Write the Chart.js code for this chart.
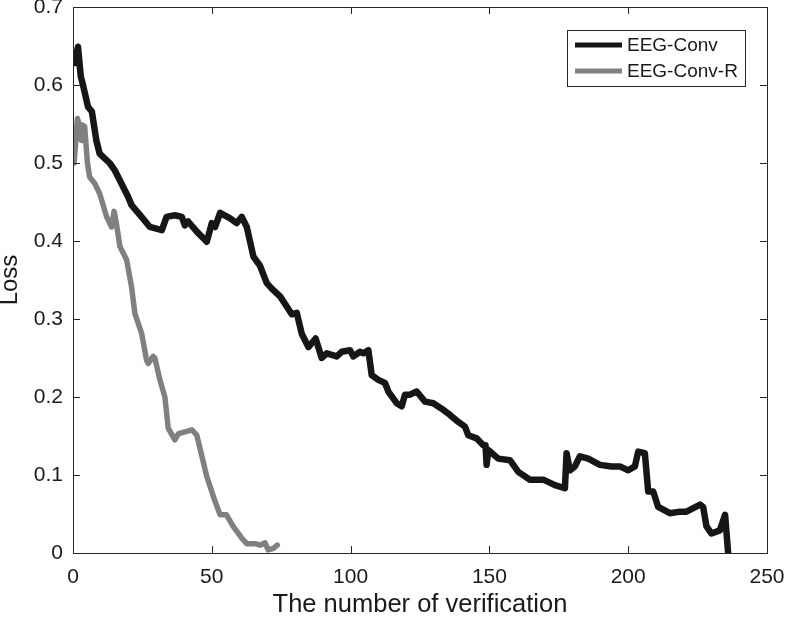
<!DOCTYPE html>
<html>
<head>
<meta charset="utf-8">
<script src="https://cdn.jsdelivr.net/npm/chart.js@4.4.1/dist/chart.umd.min.js"></script>
<style>
  body { margin: 0; background: #fff; }
  #wrap { width: 786px; height: 620px; }
</style>
</head>
<body>
<div id="wrap"><canvas id="lossChart"></canvas></div>
<script>
'use strict';
// ---------------------- Data -----------------
const seriesNames = ['EEG-Conv', 'EEG-Conv-R'];
const seriesColors = ['#161616', '#808080'];

const convSteps = [0.6, 1.8, 2.8, 3.6, 5.4, 6.8, 8.4, 9.6, 11.4, 13.2, 15, 17.4, 19.8, 21.1, 24.7, 27.7,
  32, 33.7, 36.7, 39.2, 40.3, 41.5, 44.6, 48.2, 50, 51.2, 53, 56.6, 59, 60.8, 62.6, 65, 67.4, 69.8,
  71.6, 74.6, 77, 78.8, 80.6, 82.4, 84.8, 87.4, 89.6, 91.4, 95, 96.8, 99.8, 101, 103.4, 104.6, 106.4,
  107.6, 110, 112.4, 113.6, 116.6, 118.4, 119.6, 121.4, 123.8, 126.8, 129.8, 132.8, 135.8, 138.8,
  141.2, 142.4, 145.4, 147.8, 148.6, 149, 149.6, 153.2, 157.4, 160.4, 164.6, 169.4, 173.6, 177.2,
  177.8, 179, 180.8, 182.6, 185.6, 189.8, 194, 197, 200, 202.4, 203.6, 206, 207.2, 209, 210.8, 215,
  218.7, 221, 225.9, 227, 228.2, 230, 233, 234.9, 236];
const convLoss = [0.628, 0.649, 0.611, 0.600, 0.572, 0.566, 0.529, 0.512, 0.506, 0.500, 0.491, 0.474,
  0.457, 0.446, 0.431, 0.418, 0.414, 0.431, 0.433, 0.431, 0.420, 0.425, 0.412, 0.399, 0.423, 0.418,
  0.436, 0.429, 0.423, 0.431, 0.418, 0.380, 0.368, 0.346, 0.339, 0.329, 0.316, 0.306, 0.308, 0.281,
  0.264, 0.275, 0.250, 0.256, 0.252, 0.258, 0.260, 0.252, 0.258, 0.256, 0.260, 0.228, 0.222, 0.218,
  0.207, 0.192, 0.188, 0.203, 0.203, 0.207, 0.194, 0.192, 0.185, 0.177, 0.168, 0.162, 0.151, 0.147,
  0.138, 0.138, 0.113, 0.132, 0.121, 0.119, 0.104, 0.094, 0.094, 0.087, 0.083, 0.128, 0.106, 0.111,
  0.124, 0.121, 0.113, 0.111, 0.111, 0.106, 0.111, 0.130, 0.128, 0.079, 0.079, 0.059, 0.051, 0.053,
  0.053, 0.062, 0.059, 0.034, 0.025, 0.029, 0.049, 0.000];

const convRSteps = [0.4, 1.6, 2.4, 3, 3.2, 4.2, 5.2, 6, 7.8, 9.6, 12.1, 13.9, 14.8, 15.7, 16.9, 19.3,
  21.1, 22.3, 24.7, 26.5, 27.1, 28.9, 29.5, 31.3, 33.1, 34.3, 36.7, 38, 41, 42.8, 44.6, 48.2, 51.2,
  53, 55.3, 57.7, 60.8, 62.6, 65.6, 67.4, 69.2, 70.3, 72.2, 73.6];
const convRLoss = [0.500, 0.557, 0.547, 0.529, 0.549, 0.547, 0.500, 0.482, 0.474, 0.461, 0.431, 0.418,
  0.438, 0.421, 0.393, 0.376, 0.341, 0.307, 0.282, 0.247, 0.243, 0.252, 0.250, 0.222, 0.200, 0.160,
  0.145, 0.153, 0.156, 0.158, 0.151, 0.098, 0.066, 0.049, 0.049, 0.034, 0.019, 0.012, 0.012, 0.010,
  0.013, 0.004, 0.006, 0.010];

const xTicks = [0, 50, 100, 150, 200, 250];
const yTicks = [0, 0.1, 0.2, 0.3, 0.4, 0.5, 0.6, 0.7];

// ---------------------- Helpers -----------------
const fontFamily = '"Liberation Sans", Arial, Helvetica, sans-serif';
const inkColor = '#1a1a1a';
const frameColor = '#262626';

function makePoints(xs, ys) {
  const points = [];
  for (let i = 0; i < xs.length; i++) {
    points.push({ x: xs[i], y: ys[i] });
  }
  return points;
}

// no extra room for overhanging tick labels, the layout padding decides
function noLabelPadding(scale) {
  scale.paddingTop = 0;
  scale.paddingBottom = 0;
  scale.paddingLeft = 0;
  scale.paddingRight = 0;
}

// frame, inward ticks and the boxed legend, MATLAB style
const framePlugin = {
  id: 'frame',
  afterDraw(chart) {
    const { ctx, chartArea: a, scales } = chart;
    const tickLen = 7;
    ctx.save();
    ctx.strokeStyle = frameColor;
    ctx.lineWidth = 1;
    ctx.strokeRect(Math.round(a.left) + 0.5, Math.round(a.top) + 0.5,
      Math.round(a.right - a.left), Math.round(a.bottom - a.top));
    ctx.beginPath();
    for (let v of xTicks) {
      const px = Math.round(scales.x.getPixelForValue(v)) + 0.5;
      ctx.moveTo(px, a.bottom); ctx.lineTo(px, a.bottom - tickLen);
      ctx.moveTo(px, a.top); ctx.lineTo(px, a.top + tickLen);
    }
    for (let v of yTicks) {
      const py = Math.round(scales.y.getPixelForValue(v)) + 0.5;
      ctx.moveTo(a.left, py); ctx.lineTo(a.left + tickLen, py);
      ctx.moveTo(a.right, py); ctx.lineTo(a.right - tickLen, py);
    }
    ctx.stroke();

    // legend
    const box = { left: 567.5, top: 30.5, width: 178, height: 56 };
    ctx.fillStyle = '#fff';
    ctx.fillRect(box.left, box.top, box.width, box.height);
    ctx.strokeRect(box.left, box.top, box.width, box.height);
    ctx.font = '19px ' + fontFamily;
    ctx.textBaseline = 'middle';
    const rows = [45, 71];
    chart.data.datasets.forEach((ds, i) => {
      ctx.strokeStyle = ds.borderColor;
      ctx.lineWidth = 5;
      ctx.beginPath();
      ctx.moveTo(575, rows[i]);
      ctx.lineTo(622, rows[i]);
      ctx.stroke();
      ctx.fillStyle = inkColor;
      ctx.fillText(ds.label, 627, rows[i] + 1);
    });
    ctx.restore();
  }
};

// ---------------------- Chart -----------------
const context = document.getElementById('lossChart').getContext('2d');
const lossChart = new Chart(context, {
  type: 'line',
  data: {
    datasets: [{
      label: seriesNames[0],
      data: makePoints(convSteps, convLoss),
      borderColor: seriesColors[0],
      borderWidth: 6.5,
      pointRadius: 0,
      tension: 0,
      borderJoinStyle: 'round',
      borderCapStyle: 'round'
    }, {
      label: seriesNames[1],
      data: makePoints(convRSteps, convRLoss),
      borderColor: seriesColors[1],
      borderWidth: 5.5,
      pointRadius: 0,
      tension: 0,
      borderJoinStyle: 'round',
      borderCapStyle: 'round'
    }]
  },
  options: {
    responsive: true,
    maintainAspectRatio: false,
    animation: false,
    layout: { padding: { left: 0, right: 19, top: 7, bottom: 0 } },
    plugins: {
      legend: { display: false },
      tooltip: { enabled: false }
    },
    scales: {
      x: {
        type: 'linear',
        min: 0,
        max: 250,
        afterFit(scale) { scale.height = 67; noLabelPadding(scale); },
        afterBuildTicks(scale) { scale.ticks = xTicks.map(v => ({ value: v })); },
        grid: { display: false, drawTicks: false },
        border: { display: false },
        ticks: {
          padding: 12,
          color: inkColor,
          font: { family: fontFamily, size: 21 },
          maxRotation: 0
        },
        title: {
          display: true,
          text: 'The number of verification',
          color: inkColor,
          padding: 0,
          font: { family: fontFamily, size: 25.5 }
        }
      },
      y: {
        type: 'linear',
        min: 0,
        max: 0.7,
        afterFit(scale) { scale.width = 73; noLabelPadding(scale); },
        afterBuildTicks(scale) { scale.ticks = yTicks.map(v => ({ value: v })); },
        grid: { display: false, drawTicks: false },
        border: { display: false },
        ticks: {
          padding: 10,
          color: inkColor,
          font: { family: fontFamily, size: 21 },
          callback: (v) => String(Math.round(v * 10) / 10)
        },
        title: {
          display: true,
          text: 'Loss',
          color: inkColor,
          padding: 0,
          font: { family: fontFamily, size: 24, lineHeight: 0.9 }
        }
      }
    }
  },
  plugins: [framePlugin]
});
</script>
</body>
</html>
